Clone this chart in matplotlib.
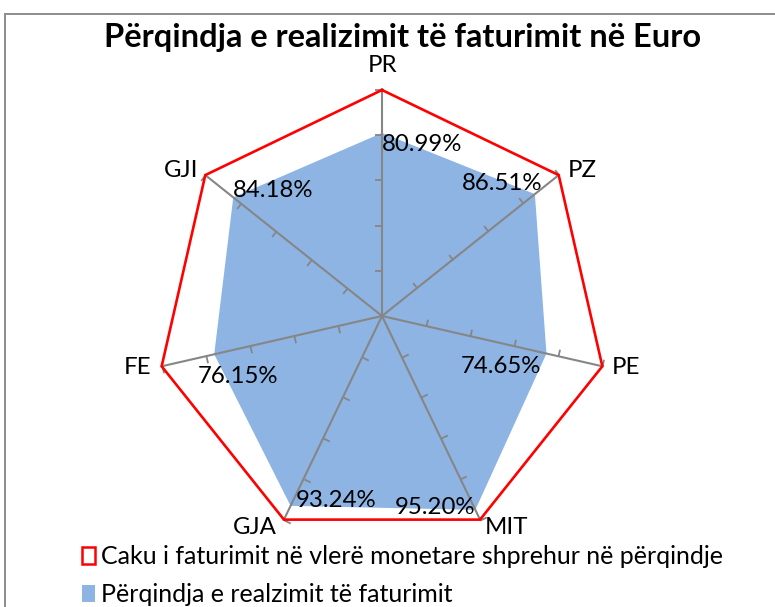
import numpy as np
import matplotlib
matplotlib.use('Agg')
import matplotlib.pyplot as plt
from matplotlib.markers import MarkerStyle
from matplotlib.path import Path
from matplotlib.transforms import Affine2D
from matplotlib.patches import Patch
from matplotlib.lines import Line2D

# ---------------- data ----------------
categories = ['PR', 'PZ', 'PE', 'MIT', 'GJA', 'FE', 'GJI']
target = [1.0, 1.0, 1.0, 1.0, 1.0, 1.0, 1.0]
realization = [0.8099, 0.8651, 0.7465, 0.9520, 0.9324, 0.7615, 0.8418]
axis_ticks = [0.2, 0.4, 0.6, 0.8, 1.0]
title_text = 'Përqindja e realizimit të faturimit në Euro'
series_names = ['Caku i faturimit në vlerë monetare shprehur në përqindje',
                'Përqindja e realzimit të faturimit']

# ---------------- style ----------------
FONT = ['Lato', 'DejaVu Sans']
plt.rcParams['font.family'] = FONT
RED = '#FF0000'
BLUE = '#8EB4E3'
GRAY = '#868686'
PX = 72 / 100.0  # pixels -> points
LABEL_FS = 17.3

# label layout (pixels; dy positive = downwards on screen)
data_label_layout = [('left', 0, 12), ('right', 8, -11), ('right', -5, 13),
                     ('right', 0, -2), ('left', 5, -5), ('left', -16, 22),
                     ('left', 0, -7)]
cat_label_layout = [('center', 0, -25), ('left', 9, -5), ('left', 9, 1),
                    ('left', 5, 8), ('right', -7, 8), ('right', -10, 1),
                    ('right', -7, -5)]

fig = plt.figure(figsize=(7.75, 6.07), dpi=100)
ax = fig.add_axes([(382 - 226) / 775, (607 - 316 - 226) / 607, 452 / 775, 452 / 607],
                  projection='polar')
ax.set_theta_zero_location('N')
ax.set_theta_direction(-1)
ax.set_ylim(0, 1)
ax.axis('off')

n = len(categories)
theta = np.arange(n) * 2 * np.pi / n
theta_c = np.append(theta, theta[0])

# filled series
real_c = np.append(realization, realization[0])
ax.fill(theta_c, real_c, color=BLUE, lw=0, zorder=1, clip_on=False)

# spokes
for t in theta:
    ax.plot([t, t], [0, 1], color=GRAY, lw=1.5, zorder=2, clip_on=False)

# tick marks on each spoke
tick_path = Path([(0, 0), (1, 0)])
for i, t in enumerate(theta):
    rot = 180 - np.degrees(t)
    ms = MarkerStyle(tick_path, transform=Affine2D().rotate_deg(rot))
    ax.plot([t] * len(axis_ticks), axis_ticks, ls='none', marker=ms,
            markersize=10, markeredgecolor=GRAY, markeredgewidth=1.3,
            zorder=2, clip_on=False)

# target polygon
tgt_c = np.append(target, target[0])
ax.plot(theta_c, tgt_c, color=RED, lw=1.9, zorder=3, clip_on=False,
        solid_joinstyle='miter')

# data labels
for t, v, (ha, dx, dy) in zip(theta, realization, data_label_layout):
    ax.annotate(f'{v * 100:.2f}%', xy=(t, v), xytext=(dx * PX, -dy * PX),
                textcoords='offset points', ha=ha, va='center',
                fontsize=LABEL_FS, color='black', zorder=5)

# category labels
for t, c, r, (ha, dx, dy) in zip(theta, categories, target, cat_label_layout):
    ax.annotate(c, xy=(t, r), xytext=(dx * PX, -dy * PX),
                textcoords='offset points', ha=ha, va='center',
                fontsize=LABEL_FS, color='black', zorder=5)

# title
fig.text(403 / 775, 1 - 37 / 607, title_text, ha='center', va='center',
         fontsize=23.5, fontweight='bold')

# legend
handles = [Patch(facecolor='white', edgecolor=RED, linewidth=1.8),
           Patch(facecolor=BLUE, edgecolor='none')]
fig.legend(handles, series_names, loc='upper left',
           bbox_to_anchor=(82 / 775, 1 - 545 / 607), frameon=False,
           fontsize=18, handlelength=0.5, handleheight=0.7,
           handletextpad=0.25, labelspacing=0.6, borderpad=0,
           borderaxespad=0)

# chart frame (partially visible)
fig.add_artist(Line2D([5 / 775, 5 / 775], [0, 1 - 14 / 607],
                      transform=fig.transFigure, color='#8C8C8C', lw=1.4))
fig.add_artist(Line2D([5 / 775, 1], [1 - 14 / 607, 1 - 14 / 607],
                      transform=fig.transFigure, color='#8C8C8C', lw=1.4))

fig.savefig('out.png', dpi=100)
